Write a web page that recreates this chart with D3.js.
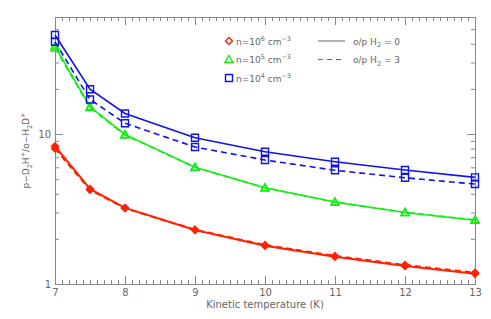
<!DOCTYPE html>
<html lang="en">
<head>
    <meta charset="utf-8">
    <title>p-D2H+/o-H2D+</title>
    <style>
        body{ margin:0; background:#fff; }
        svg text{ font-family:"DejaVu Sans",sans-serif; fill:#666; }
        .axis path,.axis line{ stroke:#888; }
    </style>
    <script src="https://cdn.jsdelivr.net/npm/d3@7"></script>
</head>
<body>
<div id="chart"></div>
<script>
    // temperatures (K)
    var temps = [7, 7.5, 8, 9, 10, 11, 12, 13];
    // ratio, o/p H2 = 0 (solid) and o/p H2 = 3 (dashed)
    var red0   = [8.3, 4.3, 3.22, 2.29, 1.80, 1.52, 1.32, 1.17];
    var red3   = [8.0, 4.25, 3.2, 2.3, 1.82, 1.54, 1.34, 1.19];
    var green0 = [38.5, 15.2, 9.95, 6.0, 4.38, 3.52, 3.0, 2.66];
    var green3 = [37.5, 15.0, 9.85, 6.0, 4.38, 3.52, 3.0, 2.68];
    var blue0  = [45.7, 19.9, 13.7, 9.45, 7.62, 6.54, 5.75, 5.14];
    var blue3  = [41.2, 17.0, 11.8, 8.19, 6.71, 5.73, 5.11, 4.64];
    var xTicks = [7, 8, 9, 10, 11, 12, 13];
    var yMajor = [1, 10];

    function draw() {
        var series = [
            {v: red0, c: "#ff2200", m: "diamond", dash: null},
            {v: red3, c: "#ff2200", m: "diamond", dash: "6,4"},
            {v: green0, c: "#11ee11", m: "triangle", dash: null},
            {v: green3, c: "#11ee11", m: "triangle", dash: "6,4"},
            {v: blue0, c: "#1111ee", m: "square", dash: null},
            {v: blue3, c: "#1111ee", m: "square", dash: "6,4"}
        ];

        var W = 491, H = 319;
        var pl = 55, pr = 475, pt = 17, pb = 284;

        var svg = d3.select("#chart").append("svg")
            .attr("width", W).attr("height", H);

        var x = d3.scaleLinear().domain([7, 13]).range([pl, pr]);
        var y = d3.scaleLog().domain([1, 60.3]).range([pb, pt]);

        var xMinor = d3.range(70, 131).map(function (d) { return d / 10; })
            .filter(function (d) { return xTicks.indexOf(d) < 0; });
        var yMinor = [2, 3, 4, 5, 6, 7, 8, 9, 20, 30, 40, 50];

        // axes: bottom, top, left, right (ticks inward)
        function addAxis(axis, tx, ty) {
            svg.append("g").attr("class", "axis")
                .attr("transform", "translate(" + tx + "," + ty + ")")
                .call(axis)
                .call(function (g) { g.selectAll("text").style("font-size", "10px").attr("fill", "#666"); });
        }
        addAxis(d3.axisBottom(x).tickValues(xTicks).tickSize(-8).tickPadding(5).tickFormat(d3.format("d")), 0, pb);
        addAxis(d3.axisBottom(x).tickValues(xMinor).tickSize(-4).tickFormat(""), 0, pb);
        addAxis(d3.axisTop(x).tickValues(xTicks).tickSize(-8).tickFormat(""), 0, pt);
        addAxis(d3.axisTop(x).tickValues(xMinor).tickSize(-4).tickFormat(""), 0, pt);
        addAxis(d3.axisLeft(y).tickValues(yMajor).tickSize(-8).tickPadding(4).tickFormat(d3.format("d")), pl, 0);
        addAxis(d3.axisLeft(y).tickValues(yMinor).tickSize(-4).tickFormat(""), pl, 0);
        addAxis(d3.axisRight(y).tickValues(yMajor).tickSize(-8).tickFormat(""), pr, 0);
        addAxis(d3.axisRight(y).tickValues(yMinor).tickSize(-4).tickFormat(""), pr, 0);

        function marker(type, cx, cy) {
            var s;
            if (type === "diamond") {
                s = 3.5;
                return "M" + cx + "," + (cy - s) + "L" + (cx + s) + "," + cy + "L" + cx + "," + (cy + s) + "L" + (cx - s) + "," + cy + "Z";
            }
            if (type === "triangle") {
                s = 4;
                return "M" + cx + "," + (cy - s) + "L" + (cx + s) + "," + (cy + s * 0.75) + "L" + (cx - s) + "," + (cy + s * 0.75) + "Z";
            }
            s = 3.5;
            return "M" + (cx - s) + "," + (cy - s) + "h" + 2 * s + "v" + 2 * s + "h" + -2 * s + "Z";
        }

        var line = d3.line()
            .x(function (d, i) { return x(temps[i]); })
            .y(function (d) { return y(d); });

        var plot = svg.append("g");
        series.forEach(function (s) {
            plot.append("path")
                .datum(s.v)
                .attr("d", line)
                .attr("fill", "none")
                .attr("stroke", s.c)
                .attr("stroke-width", s.m === "diamond" ? 2 : 1.6)
                .attr("stroke-dasharray", s.dash);
            plot.selectAll(null)
                .data(s.v)
                .enter()
                .append("path")
                .attr("d", function (d, i) { return marker(s.m, x(temps[i]), y(d)); })
                .attr("fill", s.m === "diamond" ? s.c : "none")
                .attr("stroke", s.c)
                .attr("stroke-width", 1.4);
        });

        // legend
        var leg = svg.append("g").style("font-size", "9px");
        var dens = [
            {c: "#ff2200", m: "diamond", e: "6"},
            {c: "#11ee11", m: "triangle", e: "5"},
            {c: "#1111ee", m: "square", e: "4"}
        ];
        dens.forEach(function (d, i) {
            var yy = 41 + i * 18.5;
            leg.append("path").attr("d", marker(d.m, 229, yy))
                .attr("fill", "none").attr("stroke", d.c).attr("stroke-width", 1.4);
            var t = leg.append("text").attr("x", 236).attr("y", yy + 3.5);
            t.append("tspan").text("n=10");
            t.append("tspan").attr("dy", -4).style("font-size", "6.5px").text(d.e);
            t.append("tspan").attr("dy", 4).text(" cm");
            t.append("tspan").attr("dy", -4).style("font-size", "6.5px").text("\u22123");
        });
        [{dash: null, v: "0"}, {dash: "5,4", v: "3"}].forEach(function (d, i) {
            var yy = 41 + i * 18.5;
            leg.append("line").attr("x1", 318).attr("x2", 345).attr("y1", yy).attr("y2", yy)
                .attr("stroke", "#666").attr("stroke-width", 1).attr("stroke-dasharray", d.dash);
            var t = leg.append("text").attr("x", 353).attr("y", yy + 3.5);
            t.append("tspan").text("o/p H");
            t.append("tspan").attr("dy", 2.5).style("font-size", "6.5px").text("2");
            t.append("tspan").attr("dy", -2.5).text(" = " + d.v);
        });

        // axis titles
        svg.append("text")
            .attr("x", (pl + pr) / 2).attr("y", 308)
            .attr("text-anchor", "middle").style("font-size", "10px")
            .text("Kinetic temperature (K)");

        var yl = svg.append("text")
            .attr("transform", "translate(29," + (pt + pb) / 2 + ") rotate(-90)")
            .attr("text-anchor", "middle").style("font-size", "9px");
        yl.append("tspan").text("p\u2212D");
        yl.append("tspan").attr("dy", 2.5).style("font-size", "6.5px").text("2");
        yl.append("tspan").attr("dy", -2.5).text("H");
        yl.append("tspan").attr("dy", -4).style("font-size", "6.5px").text("+");
        yl.append("tspan").attr("dy", 4).text("/o\u2212H");
        yl.append("tspan").attr("dy", 2.5).style("font-size", "6.5px").text("2");
        yl.append("tspan").attr("dy", -2.5).text("D");
        yl.append("tspan").attr("dy", -4).style("font-size", "6.5px").text("+");
    }
    draw();
</script>
</body>
</html>
